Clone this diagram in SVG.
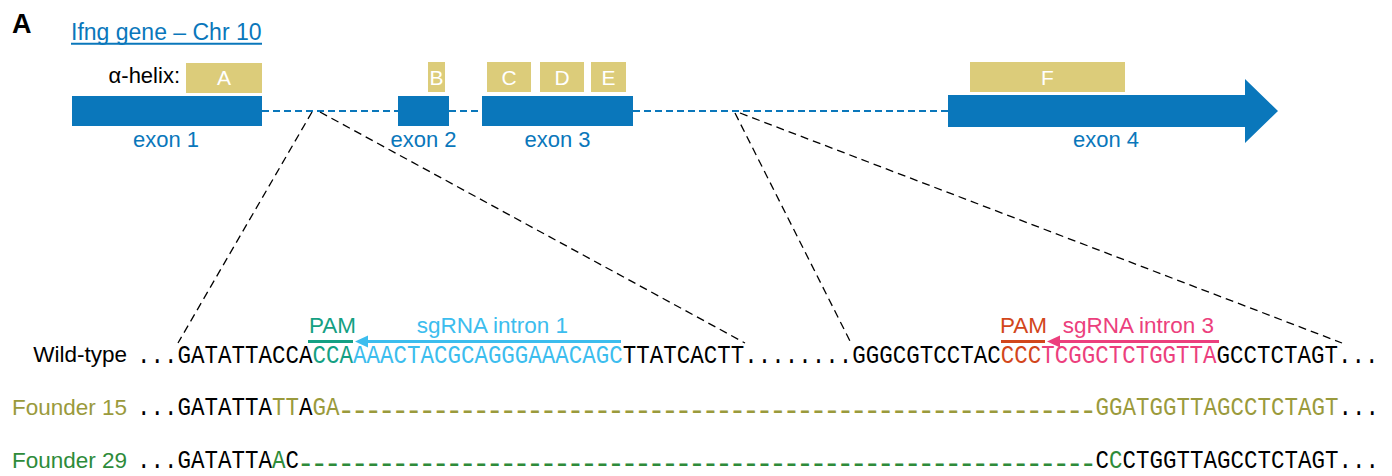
<svg xmlns="http://www.w3.org/2000/svg" width="1392" height="476" viewBox="0 0 1392 476">
<style>
.sans{font-family:"Liberation Sans",Arial,sans-serif;}
.lbl{font-family:"Liberation Sans",Arial,sans-serif;font-size:22.5px;}
.seq{font-family:"Liberation Mono","Courier New",monospace;font-size:22.5px;fill:#000;}
.dash{font-size:29px;letter-spacing:-3.9px;}
.helix{fill:#dccc7a;}
.helixt{font-family:"Liberation Sans",Arial,sans-serif;font-size:21px;fill:#fff;text-anchor:middle;}
.exon{fill:#0a77bb;}
.exont{font-family:"Liberation Sans",Arial,sans-serif;font-size:22px;fill:#0a77bb;text-anchor:middle;}
.intron{stroke:#0a77bb;stroke-width:2.2;stroke-dasharray:7 4;fill:none;}
.zoom{stroke:#000;stroke-width:1.3;stroke-dasharray:8 5;fill:none;}
</style>
<rect width="1392" height="476" fill="#fff"/>

<text class="sans" x="12" y="33" font-size="27" font-weight="bold" fill="#000">A</text>
<g id="title">
<text class="sans" x="71" y="40" font-size="23" fill="#0a77bb">Ifng gene – Chr 10</text>
<line x1="71" y1="43.8" x2="262" y2="43.8" stroke="#0a77bb" stroke-width="2"/>
</g>
<text class="sans" x="180" y="83" font-size="22" text-anchor="end" fill="#000">α-helix:</text>

<g id="connectors">
<line class="intron" x1="262" y1="111" x2="398" y2="111"/>
<line class="intron" x1="449" y1="111" x2="482" y2="111"/>
<line class="intron" x1="633" y1="111" x2="948" y2="111"/>
<line class="zoom" x1="312" y1="112" x2="178" y2="343"/>
<line class="zoom" x1="320" y1="112" x2="745" y2="343"/>
<line class="zoom" x1="735" y1="113" x2="852" y2="345"/>
<line class="zoom" x1="740" y1="113" x2="1342" y2="343"/>
</g>

<g id="helixA"><rect class="helix" x="186" y="63" width="76" height="30"/><text class="helixt" x="224" y="85">A</text></g>
<g id="helixB"><rect class="helix" x="428" y="62" width="17" height="30"/><text class="helixt" x="436.5" y="85">B</text></g>
<g id="helixC"><rect class="helix" x="487" y="62" width="44" height="30"/><text class="helixt" x="509" y="85">C</text></g>
<g id="helixD"><rect class="helix" x="540" y="62" width="44" height="30"/><text class="helixt" x="562" y="85">D</text></g>
<g id="helixE"><rect class="helix" x="591" y="62" width="35" height="30"/><text class="helixt" x="608.5" y="85">E</text></g>
<g id="helixF"><rect class="helix" x="970" y="62" width="155" height="30"/><text class="helixt" x="1047.5" y="85">F</text></g>

<g id="exon1"><rect class="exon" x="72" y="96" width="190" height="30"/><text class="exont" x="166" y="147">exon 1</text></g>
<g id="exon2"><rect class="exon" x="398" y="96" width="51" height="30"/><text class="exont" x="423.5" y="147">exon 2</text></g>
<g id="exon3"><rect class="exon" x="482" y="96" width="151" height="30"/><text class="exont" x="557.5" y="147">exon 3</text></g>
<g id="exon4"><polygon class="exon" points="948,95 1245,95 1245,79 1278,111 1245,143 1245,127 948,127"/><text class="exont" x="1106" y="147">exon 4</text></g>

<g id="sgRNA1">
<text class="lbl" x="332.5" y="333" text-anchor="middle" fill="#14a083">PAM</text>
<line x1="308" y1="341.5" x2="353" y2="341.5" stroke="#14a083" stroke-width="3"/>
<text class="lbl" x="568" y="333" text-anchor="end" fill="#3cbdee">sgRNA intron 1</text>
<line x1="364" y1="341.5" x2="621" y2="341.5" stroke="#3cbdee" stroke-width="3"/>
<polygon points="355,341.5 368,335.5 368,347.5" fill="#3cbdee"/>
</g>
<g id="sgRNA3">
<text class="lbl" x="1023.5" y="333" text-anchor="middle" fill="#d2461b">PAM</text>
<line x1="1001" y1="341.5" x2="1045" y2="341.5" stroke="#d2461b" stroke-width="3"/>
<text class="lbl" x="1214" y="333" text-anchor="end" fill="#ec3f7d">sgRNA intron 3</text>
<line x1="1057" y1="341.5" x2="1219" y2="341.5" stroke="#ec3f7d" stroke-width="3"/>
<polygon points="1047,341.5 1060,335.5 1060,347.5" fill="#ec3f7d"/>
</g>

<g id="wildtype">
<text class="lbl" x="127" y="362" text-anchor="end" fill="#000">Wild-type</text>
<text class="seq" transform="translate(137,363) scale(1,1.12)" x="0" y="0">...GATATTACCA<tspan fill="#14a083">CCA</tspan><tspan fill="#3cbdee">AAACTACGCAGGGAAACAGC</tspan>TTATCACTT........GGGCGTCCTAC<tspan fill="#d2461b">CCC</tspan><tspan fill="#ec3f7d">TCGGCTCTGGTTA</tspan>GCCTCTAGT...</text>
</g>
<g id="founder15">
<text class="lbl" x="127" y="415" text-anchor="end" fill="#9a9a3c">Founder 15</text>
<text class="seq" transform="translate(137,415) scale(1,1.12)" x="0" y="0">...GATATTA<tspan fill="#9a9a3c">TT</tspan>A<tspan fill="#9a9a3c">GA</tspan><tspan class="dash" fill="#9a9a3c" dx="-1.9" dy="5">--------------------------------------------------------</tspan><tspan x="958.5" dy="-5" fill="#9a9a3c">GGATGGTTAGCCTCTAGT</tspan>...</text>
</g>
<g id="founder29">
<text class="lbl" x="127" y="468" text-anchor="end" fill="#2e8b3a">Founder 29</text>
<text class="seq" transform="translate(137,468) scale(1,1.12)" x="0" y="0">...GATATTA<tspan fill="#2e8b3a">A</tspan>C<tspan class="dash" fill="#2e8b3a" dx="-1.9" dy="5">-----------------------------------------------------------</tspan><tspan x="958.5" dy="-5">C</tspan><tspan fill="#2e8b3a">C</tspan>CTGGTTAGCCTCTAGT...</text>
</g>
</svg>
